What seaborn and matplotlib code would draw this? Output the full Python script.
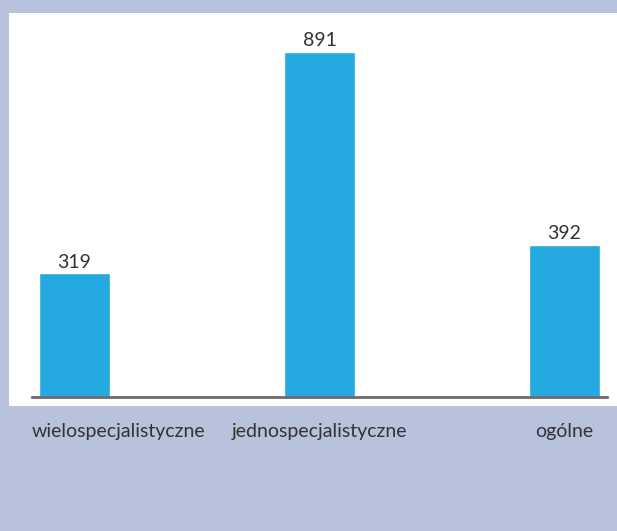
import matplotlib
matplotlib.use("Agg")
import matplotlib.pyplot as plt
import matplotlib.transforms as mtrans
from matplotlib.patches import Rectangle
import seaborn as sns
import pandas as pd

categories = ["wielospecjalistyczne", "jednospecjalistyczne", "ogólne"]
values = [319, 891, 392]

sns.set_theme(style="white")
plt.rcParams['font.family'] = ['Lato', 'DejaVu Sans']

W, H = 617, 531
fig = plt.figure(figsize=(W / 100, H / 100), dpi=100)
fig.patch.set_facecolor("#b8c2dc")
fig.patches.append(Rectangle((9 / W, (H - 406) / H), (W - 9) / W, (406 - 13) / H,
                             transform=fig.transFigure, facecolor="white",
                             edgecolor="none", zorder=-10))

ax = fig.add_axes([32 / W, (H - 397) / H, (607 - 32) / W, (397 - 20) / H])
ax.set_facecolor("none")
ax.set_zorder(5)

df = pd.DataFrame({"cat": categories, "val": values})
sns.barplot(data=df, x="cat", y="val", color="#24a9e1", width=0.29,
            saturation=1, ax=ax)

ax.set_xlim(-0.1735, 2.1735)
ax.set_ylim(0, 973.6)
for s in ["top", "right", "left"]:
    ax.spines[s].set_visible(False)
ax.spines["bottom"].set_color("#6b6b6b")
ax.spines["bottom"].set_linewidth(2)
ax.set_yticks([])
ax.set_xlabel("")
ax.set_ylabel("")
ax.tick_params(axis="x", length=0, pad=19, labelsize=14, labelcolor="#333333")

for c in ax.containers:
    ax.bar_label(c, labels=[str(v) for v in values], padding=2,
                 fontsize=14, color="#333333")

lbls = ax.get_xticklabels()
lbls[0].set_horizontalalignment("left")
lbls[0].set_transform(lbls[0].get_transform() +
                      mtrans.ScaledTranslation(-42.5 / 100, 0, fig.dpi_scale_trans))

fig.savefig("out.png", dpi=100, facecolor=fig.get_facecolor())
